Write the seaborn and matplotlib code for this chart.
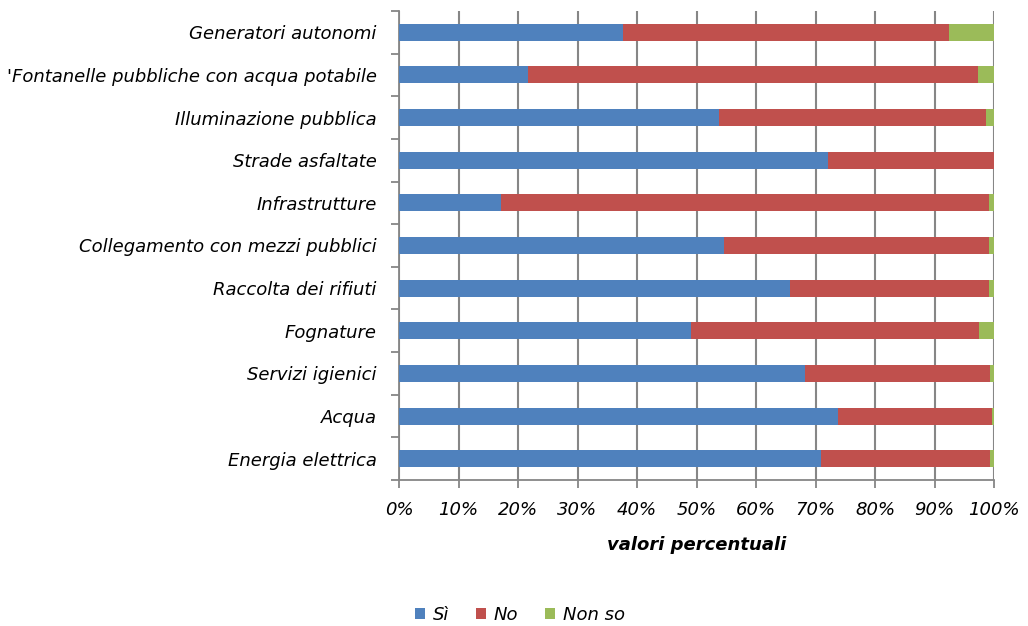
import matplotlib
matplotlib.use("Agg")
import matplotlib.pyplot as plt
from matplotlib.patches import Patch
from matplotlib.ticker import FixedLocator
import seaborn as sns
import pandas as pd
import numpy as np

categorie = [
    "Generatori autonomi",
    "'Fontanelle pubbliche con acqua potabile",
    "Illuminazione pubblica",
    "Strade asfaltate",
    "Infrastrutture",
    "Collegamento con mezzi pubblici",
    "Raccolta dei rifiuti",
    "Fognature",
    "Servizi igienici",
    "Acqua",
    "Energia elettrica",
]
si = [37.6, 21.6, 53.7, 72.1, 17.2, 54.7, 65.7, 49.0, 68.2, 73.8, 70.9]
no = [54.8, 75.7, 44.9, 27.9, 81.9, 44.4, 33.5, 48.4, 31.2, 25.9, 28.5]
non_so = [7.6, 2.7, 1.4, 0.0, 0.9, 0.9, 0.8, 2.6, 0.6, 0.3, 0.6]

serie = ["Sì", "No", "Non so"]
colori = ["#4F81BD", "#C0504D", "#9BBB59"]
tick_x = [0, 10, 20, 30, 40, 50, 60, 70, 80, 90, 100]

df = pd.DataFrame({"categoria": categorie, "Sì": si, "No": no, "Non so": non_so})
df["cum_si"] = df["Sì"]
df["cum_no"] = df["Sì"] + df["No"]
df["cum_tot"] = df["Sì"] + df["No"] + df["Non so"]

plt.rcParams["font.family"] = "DejaVu Sans"
fs = 13

fig = plt.figure(figsize=(10.28, 6.26), dpi=100)
ax = fig.add_axes([399 / 1028, 1 - 480 / 626, 595 / 1028, 469 / 626])

# stacked bars: draw cumulative totals back to front
for col, c in [("cum_tot", colori[2]), ("cum_no", colori[1]), ("cum_si", colori[0])]:
    sns.barplot(data=df, y="categoria", x=col, orient="h", color=c,
                width=0.4, ax=ax, saturation=1, zorder=3)

ax.set_xlim(0, 100)
ax.set_ylim(len(categorie) - 0.5, -0.5)
ax.set_xticks(tick_x)
ax.set_xticklabels([f"{t}%" for t in tick_x], fontsize=fs, style="italic")
ax.set_xlabel("valori percentuali", fontsize=fs, style="italic",
              fontweight="bold", labelpad=12)
ax.set_ylabel("")
ax.tick_params(axis="x", length=6, width=1.3, color="#868686", pad=9)
ax.tick_params(axis="y", which="major", length=0, pad=16)
for lbl in ax.get_yticklabels():
    lbl.set_fontsize(fs)
    lbl.set_style("italic")
ax.yaxis.set_minor_locator(FixedLocator(np.arange(-0.5, len(categorie), 1.0)))
ax.tick_params(axis="y", which="minor", length=6, width=1.3, color="#868686")

ax.grid(axis="x", color="#868686", linewidth=1.5, zorder=0)
ax.set_axisbelow(True)
for s in ["top", "right"]:
    ax.spines[s].set_visible(False)
for s in ["left", "bottom"]:
    ax.spines[s].set_color("#868686")
    ax.spines[s].set_linewidth(1.3)

handles = [Patch(facecolor=c, edgecolor="none") for c in colori]
fig.legend(handles, serie, loc="center", bbox_to_anchor=(520 / 1028, 1 - 615 / 626),
           ncol=3, frameon=False, prop={"size": fs, "style": "italic"},
           handlelength=0.55, handleheight=0.55, columnspacing=1.45, handletextpad=0.45)

fig.savefig("out.png", dpi=100)
